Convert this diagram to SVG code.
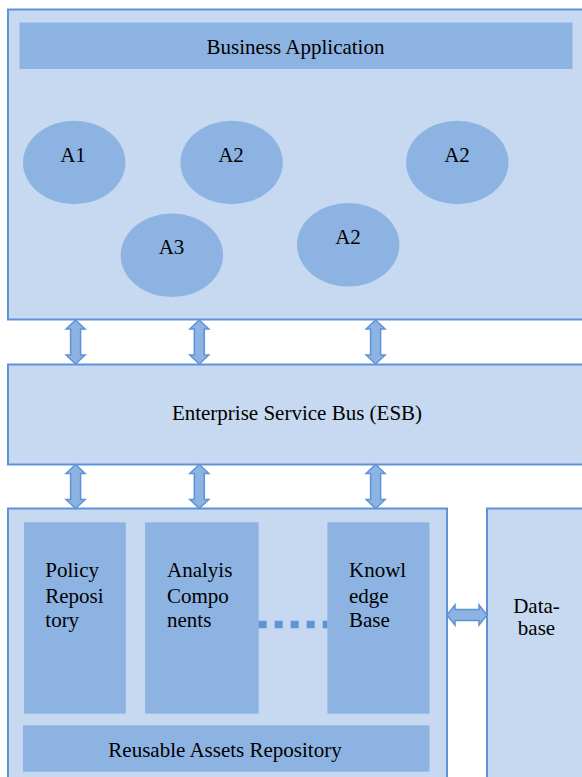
<svg xmlns="http://www.w3.org/2000/svg" xmlns:xlink="http://www.w3.org/1999/xlink" width="582" height="777" viewBox="0 0 582 777">
<style>
.outer{fill:#C6D9F1;stroke:#5F93D8;stroke-width:2}
.inner{fill:#8DB3E2;stroke:none}
.arrow{fill:#8DB3E2;stroke:#5F93D8;stroke-width:1.5;stroke-linejoin:miter}
.t{font-family:'Liberation Serif','Times New Roman',serif;font-size:21px;fill:#000}
.c{text-anchor:middle}
</style>
<defs>
<path id="varrow" d="M0,0 L9.5,9 L5,9 L5,35 L9.5,35 L0,44 L-9.5,35 L-5,35 L-5,9 L-9.5,9 Z"/>
</defs>
<rect width="582" height="777" fill="#fff"/>
<g id="business-application">
<rect class="outer" x="8" y="9.5" width="600" height="310"/>
<rect class="inner" x="19.5" y="22.5" width="553" height="46.5"/>
<text class="t c" x="295.5" y="54.3">Business Application</text>
</g>
<g id="a1"><ellipse class="inner" cx="74.2" cy="162.5" rx="51.2" ry="41.8"/><text class="t c" x="73" y="161.7">A1</text></g>
<g id="a2-1"><ellipse class="inner" cx="231.6" cy="162.5" rx="51.2" ry="41.8"/><text class="t c" x="231" y="161.7">A2</text></g>
<g id="a2-2"><ellipse class="inner" cx="457.3" cy="162.5" rx="51.2" ry="41.8"/><text class="t c" x="457" y="161.7">A2</text></g>
<g id="a3"><ellipse class="inner" cx="171.9" cy="255.3" rx="51.2" ry="41.8"/><text class="t c" x="171.5" y="253.5">A3</text></g>
<g id="a2-3"><ellipse class="inner" cx="348.2" cy="244.8" rx="51.2" ry="41.8"/><text class="t c" x="348" y="243.5">A2</text></g>
<g id="esb">
<rect class="outer" x="8" y="364.5" width="600" height="100"/>
<text class="t c" x="297" y="420">Enterprise Service Bus (ESB)</text>
</g>
<g id="reusable-assets">
<rect class="outer" x="8" y="508.5" width="439" height="300"/>
<rect class="inner" x="23" y="725.3" width="406.5" height="46.4"/>
<text class="t c" x="225" y="756.7">Reusable Assets Repository</text>
</g>
<g id="policy-repository">
<rect class="inner" x="24" y="522.3" width="101.8" height="191.4"/>
<text class="t" x="45.3" y="577.3">Policy</text>
<text class="t" x="45.3" y="602.5">Reposi</text>
<text class="t" x="45.3" y="626.7">tory</text>
</g>
<g id="analysis-components">
<rect class="inner" x="145.1" y="522.3" width="113.6" height="191.4"/>
<text class="t" x="167" y="577.3">Analyis</text>
<text class="t" x="167" y="602.5">Compo</text>
<text class="t" x="167" y="626.7">nents</text>
</g>
<g id="knowledge-base">
<rect class="inner" x="327.4" y="522.3" width="102.1" height="191.4"/>
<text class="t" x="349" y="577.3">Knowl</text>
<text class="t" x="349" y="602.5">edge</text>
<text class="t" x="349" y="626.7">Base</text>
</g>
<g id="database">
<rect class="outer" x="487" y="508.5" width="150" height="300"/>
<text class="t c" x="536.5" y="613.3">Data-</text>
<text class="t c" x="536.5" y="635">base</text>
</g>
<g id="connectors">
<use xlink:href="#varrow" class="arrow" x="75.6" y="320"/>
<use xlink:href="#varrow" class="arrow" x="199.3" y="320"/>
<use xlink:href="#varrow" class="arrow" x="375.6" y="320"/>
<use xlink:href="#varrow" class="arrow" x="75.6" y="464.5"/>
<use xlink:href="#varrow" class="arrow" x="199.3" y="464.5"/>
<use xlink:href="#varrow" class="arrow" x="375.6" y="464.5"/>
<path class="arrow" d="M447,615 L455,605 L455,609.5 L479,609.5 L479,605 L487,615 L479,625 L479,620.5 L455,620.5 L455,625 Z"/>
<line x1="258.7" y1="624.5" x2="327.4" y2="624.5" stroke="#5F93D8" stroke-width="7.5" stroke-dasharray="8 8"/>
</g>
</svg>
